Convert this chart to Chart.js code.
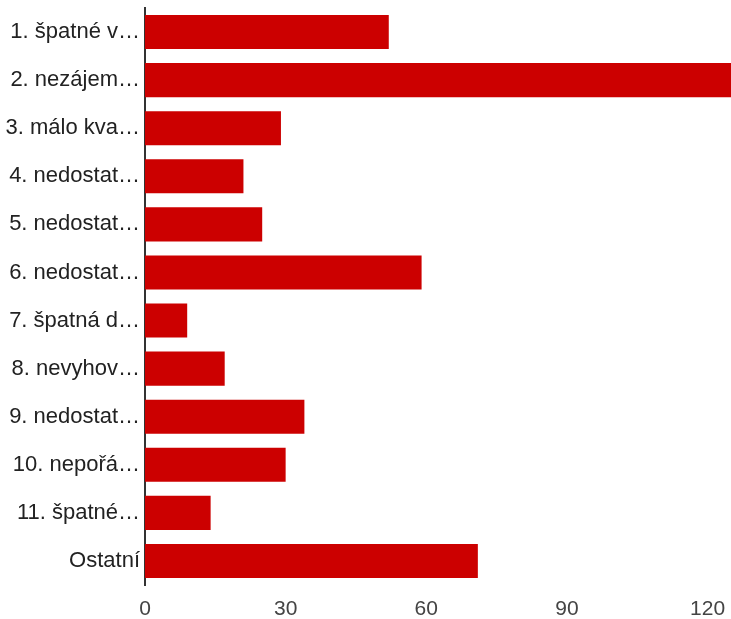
<!DOCTYPE html>
<html>
<head>
<meta charset="utf-8">
<script src="https://cdn.jsdelivr.net/npm/chart.js@4"></script>
<style>
html,body{margin:0;padding:0;background:#fff;overflow:hidden;}
#wrap{width:731px;height:619px;}
</style>
</head>
<body>
<div id="wrap"><canvas id="c" width="731" height="619"></canvas></div>
<script>
const categories = ["1. špatné v…","2. nezájem…","3. málo kva…","4. nedostat…","5. nedostat…","6. nedostat…","7. špatná d…","8. nevyhov…","9. nedostat…","10. nepořá…","11. špatné…","Ostatní"];
const values = [52,125,29,21,25,59,9,17,34,30,14,71];
const xTicks = [0,30,60,90,120];
const xMax = 125;

new Chart(document.getElementById('c'), {
  type: 'bar',
  data: {
    labels: categories,
    datasets: [{
      data: values,
      backgroundColor: '#cc0000',
      borderWidth: 0,
      categoryPercentage: 1,
      barPercentage: 0.71
    }]
  },
  options: {
    indexAxis: 'y',
    responsive: false,
    animation: false,
    devicePixelRatio: 1,
    layout: {padding: {top: 8, right: 0, left: 0, bottom: 0}},
    plugins: {legend: {display: false}, tooltip: {enabled: false}},
    scales: {
      x: {
        min: 0, max: xMax,
        grid: {display: false, drawTicks: false},
        border: {display: false},
        afterBuildTicks: (s) => { s.ticks = xTicks.map(v => ({value: v})); },
        afterFit: (s) => { s.height = 34; s.paddingLeft = 0; s.paddingRight = 0; },
        ticks: {
          color: '#444',
          padding: 12,
          font: {family: 'Liberation Sans, Arial, sans-serif', size: 21},
          maxRotation: 0
        }
      },
      y: {
        grid: {display: false, drawTicks: false},
        border: {display: true, color: '#333', width: 2},
        afterFit: (s) => { s.width = 145; s.paddingTop = 0; s.paddingBottom = 0; },
        ticks: {
          color: '#222',
          padding: 5,
          autoSkip: false,
          font: {family: 'Liberation Sans, Arial, sans-serif', size: 22}
        }
      }
    }
  }
});
</script>
</body>
</html>
